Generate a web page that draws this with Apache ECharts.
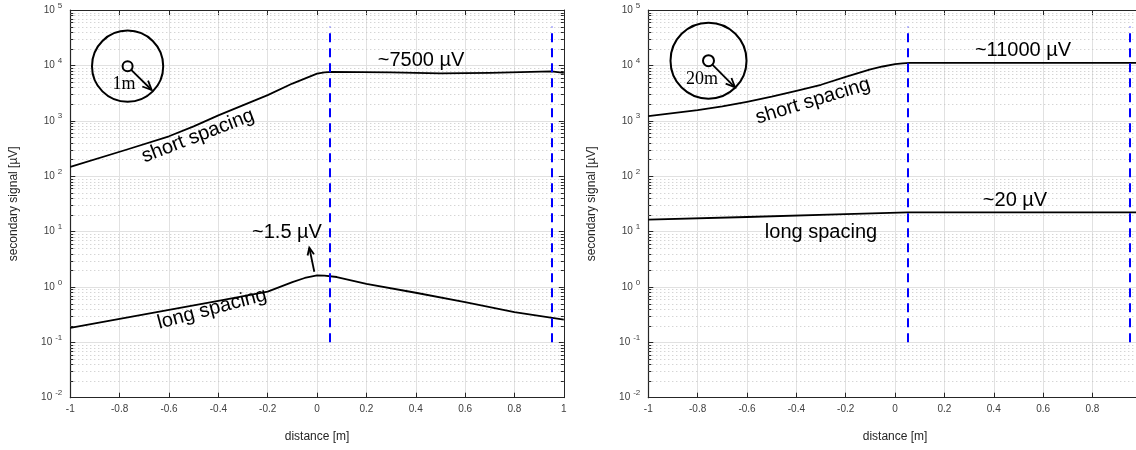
<!DOCTYPE html>
<html><head><meta charset="utf-8">
<script src="https://cdn.jsdelivr.net/npm/echarts@6/dist/echarts.min.js"></script>
<style>html,body{margin:0;padding:0;background:#fff}#c{width:1136px;height:450px}</style>
</head><body><div id="c"></div>
<script>
// ---- data ----
const leftShortX = [-1, -0.77, -0.6, -0.5, -0.4, -0.2, -0.1, -0.05, 0, 0.03, 0.06, 0.3, 0.5, 0.7, 0.95, 1];
const leftShortY = [147, 303, 525, 790, 1250, 2900, 4700, 5750, 7080, 7500, 7650, 7450, 7150, 7300, 7780, 7350];
const leftLongX = [-1, -0.6, -0.4, -0.2, -0.1, -0.05, 0, 0.03, 0.08, 0.2, 0.4, 0.6, 0.8, 1];
const leftLongY = [0.183, 0.386, 0.56, 0.82, 1.22, 1.45, 1.62, 1.6, 1.51, 1.14, 0.785, 0.53, 0.35, 0.258];
const rightShortX = [-1, -0.8, -0.7, -0.6, -0.5, -0.4, -0.3, -0.2, -0.1, -0.05, 0, 0.03, 0.06, 0.5, 1];
const rightShortY = [1210, 1556, 1820, 2200, 2720, 3480, 4470, 6200, 8450, 9550, 10500, 10840, 11100, 11100, 11100];
const rightLongX = [-1, -0.6, -0.2, 0.05, 0.5, 1];
const rightLongY = [16.4, 18.3, 20.7, 22.2, 22.2, 22.2];
const boundaryX = [0.05, 0.95];
const boundaryYRange = [0.1, 50000];
const xRange = [-1, 1];
const yRange = [0.01, 100000];
const minorDecades = [-2, -1, 0, 1, 2, 3, 4];
const minorMultipliers = [2, 3, 4, 5, 6, 7, 8, 9];

const pair = (xs, ys) => xs.map((x, i) => [x, ys[i]]);
const minorVals = [];
minorDecades.forEach(d => minorMultipliers.forEach(m => minorVals.push(m * Math.pow(10, d))));

const FONT = '"Liberation Sans", Arial, sans-serif';
const SERIF = '"Liberation Serif", serif';
const AX = '#262626';
const LBL = '#404040';

function xAxes(gi) {
  return [
    { gridIndex: gi, type: 'value', min: xRange[0], max: xRange[1], interval: 0.2, position: 'bottom',
      axisLine: { show: true, onZero: false, lineStyle: { color: AX, width: 1.2 } },
      axisTick: { show: true, inside: true, length: 5, lineStyle: { color: AX } },
      axisLabel: { color: LBL, fontSize: 10, fontFamily: FONT, margin: 7,
        formatter: v => (gi === 1 && v >= xRange[1]) ? '' : (Math.round(v * 10) / 10).toString() },
      splitLine: { show: true, lineStyle: { color: '#e1e1e1', width: 1 } },
      name: 'distance [m]', nameLocation: 'middle', nameGap: 33,
      nameTextStyle: { color: AX, fontSize: 12, fontFamily: FONT } },
    { gridIndex: gi, type: 'value', min: xRange[0], max: xRange[1], interval: 0.2, position: 'top',
      axisLine: { show: true, onZero: false, lineStyle: { color: AX, width: 1 } },
      axisTick: { show: true, inside: true, length: 5, lineStyle: { color: AX } },
      axisLabel: { show: false }, splitLine: { show: false } }
  ];
}
function yAxes(gi) {
  return [
    { gridIndex: gi, type: 'log', logBase: 10, min: yRange[0], max: yRange[1], interval: 1, position: 'left',
      axisLine: { show: true, onZero: false, lineStyle: { color: AX, width: 1.2 } },
      axisTick: { show: true, inside: true, length: 5, lineStyle: { color: AX } },
      axisLabel: { margin: 8, fontFamily: FONT,
        formatter: v => '{b|10}{s|' + Math.round(Math.log10(v)) + '}',
        rich: { b: { fontSize: 10, color: LBL, fontFamily: FONT },
                s: { fontSize: 8, color: LBL, fontFamily: FONT, padding: [0, 0, 9, 3] } } },
      splitLine: { show: true, lineStyle: { color: '#e1e1e1', width: 1 } },
      name: 'secondary signal [µV]', nameLocation: 'middle', nameGap: 51, nameRotate: 90,
      nameTextStyle: { color: AX, fontSize: 12, fontFamily: FONT } },
    { gridIndex: gi, type: 'log', logBase: 10, min: yRange[0], max: yRange[1], interval: 1, position: 'right',
      axisLine: { show: true, onZero: false, lineStyle: { color: AX, width: 1 } },
      axisTick: { show: true, inside: true, length: 5, lineStyle: { color: AX } },
      axisLabel: { show: false }, splitLine: { show: false } }
  ];
}

function minorSeries(xi, yi) {
  return {
    type: 'custom', xAxisIndex: xi, yAxisIndex: yi, silent: true, z: 1, clip: false,
    data: minorVals.map(v => [xRange[0], v]),
    encode: { x: 0, y: 1 },
    renderItem: (params, api) => {
      const cs = params.coordSys;
      const p = api.coord([api.value(0), api.value(1)]);
      const y = Math.round(p[1]) + 0.5;
      return { type: 'group', children: [
        { type: 'line', shape: { x1: cs.x, y1: y, x2: cs.x + cs.width, y2: y },
          style: { stroke: '#c4c4c4', lineWidth: 1, lineDash: [1, 3] } },
        { type: 'line', shape: { x1: cs.x, y1: y, x2: cs.x + 3, y2: y },
          style: { stroke: AX, lineWidth: 1 } },
        { type: 'line', shape: { x1: cs.x + cs.width - 3, y1: y, x2: cs.x + cs.width, y2: y },
          style: { stroke: AX, lineWidth: 1 } }
      ] };
    }
  };
}

function curve(xi, yi, data, withBoundaries) {
  const s = {
    type: 'line', xAxisIndex: xi, yAxisIndex: yi, data: data, showSymbol: false, symbol: 'none',
    lineStyle: { color: '#000', width: 1.8, join: 'round' }, z: 5, silent: true
  };
  if (withBoundaries) {
    s.markLine = {
      silent: true, symbol: 'none', label: { show: false }, z: 6,
      lineStyle: { color: '#0000ff', width: 2, type: [9, 6] },
      data: boundaryX.map(bx => [{ coord: [bx, boundaryYRange[0]] }, { coord: [bx, boundaryYRange[1]] }])
    };
  }
  return s;
}

function arrow(x1, y1, x2, y2, h, ang) {
  const a = Math.atan2(y2 - y1, x2 - x1);
  return [
    { type: 'line', shape: { x1, y1, x2, y2 }, style: { stroke: '#000', lineWidth: 1.8 }, silent: true, z: 20 },
    { type: 'polyline', shape: { points: [
        [x2 - h * Math.cos(a - ang), y2 - h * Math.sin(a - ang)], [x2, y2],
        [x2 - h * Math.cos(a + ang), y2 - h * Math.sin(a + ang)]] },
      style: { stroke: '#000', lineWidth: 1.8, fill: null }, silent: true, z: 20 }
  ];
}
function txt(t, x, y, deg, size, family) {
  return { type: 'text', x, y, rotation: (deg || 0) * Math.PI / 180, silent: true, z: 20,
    style: { text: t, fill: '#000', font: (size || 20) + 'px ' + (family || FONT), align: 'center', verticalAlign: 'middle' } };
}
function circle(cx, cy, r, w) {
  return { type: 'circle', shape: { cx, cy, r }, style: { stroke: '#000', lineWidth: w, fill: null }, silent: true, z: 20 };
}

const graphics = [].concat(
  [circle(127.6, 66.2, 35.6, 2), circle(127.6, 66.2, 5, 2)],
  arrow(131.2, 69.8, 151.7, 90, 10, 0.42),
  [txt('1m', 124, 84, 0, 18, SERIF)],
  [circle(708.5, 60.7, 38, 2), circle(708.5, 60.7, 5.5, 2)],
  arrow(712.4, 64.6, 735, 87.3, 10, 0.42),
  [txt('20m', 702, 79, 0, 18, SERIF)],
  [txt('~7500 µV', 421, 60, 0, 20), txt('short spacing', 198, 136, 21, 20), txt('long spacing', 212, 309, 15, 20),
   txt('~1.5 µV', 287, 232, 0, 20)],
  arrow(314.3, 271.7, 309.3, 247.7, 8, 0.42),
  [txt('~11000 µV', 1023, 50, 0, 20), txt('short spacing', 813, 101, 17, 20), txt('~20 µV', 1015, 200, 0, 20),
   txt('long spacing', 821, 232, 0, 20)]
);

const chart = echarts.init(document.getElementById('c'), null, { renderer: 'canvas' });
chart.setOption({
  animation: false,
  backgroundColor: '#fff',
  grid: [
    { left: 70.3, top: 10, width: 493.5, height: 387.7, containLabel: false, outerBoundsMode: 'none' },
    { left: 648.3, top: 10, width: 493.5, height: 387.7, containLabel: false, outerBoundsMode: 'none' }
  ],
  xAxis: xAxes(0).concat(xAxes(1)),
  yAxis: yAxes(0).concat(yAxes(1)),
  series: [
    minorSeries(0, 0), minorSeries(2, 2),
    curve(0, 0, pair(leftShortX, leftShortY), true),
    curve(0, 0, pair(leftLongX, leftLongY), false),
    curve(2, 2, pair(rightShortX, rightShortY), true),
    curve(2, 2, pair(rightLongX, rightLongY), false)
  ],
  graphic: graphics
});
</script></body></html>
